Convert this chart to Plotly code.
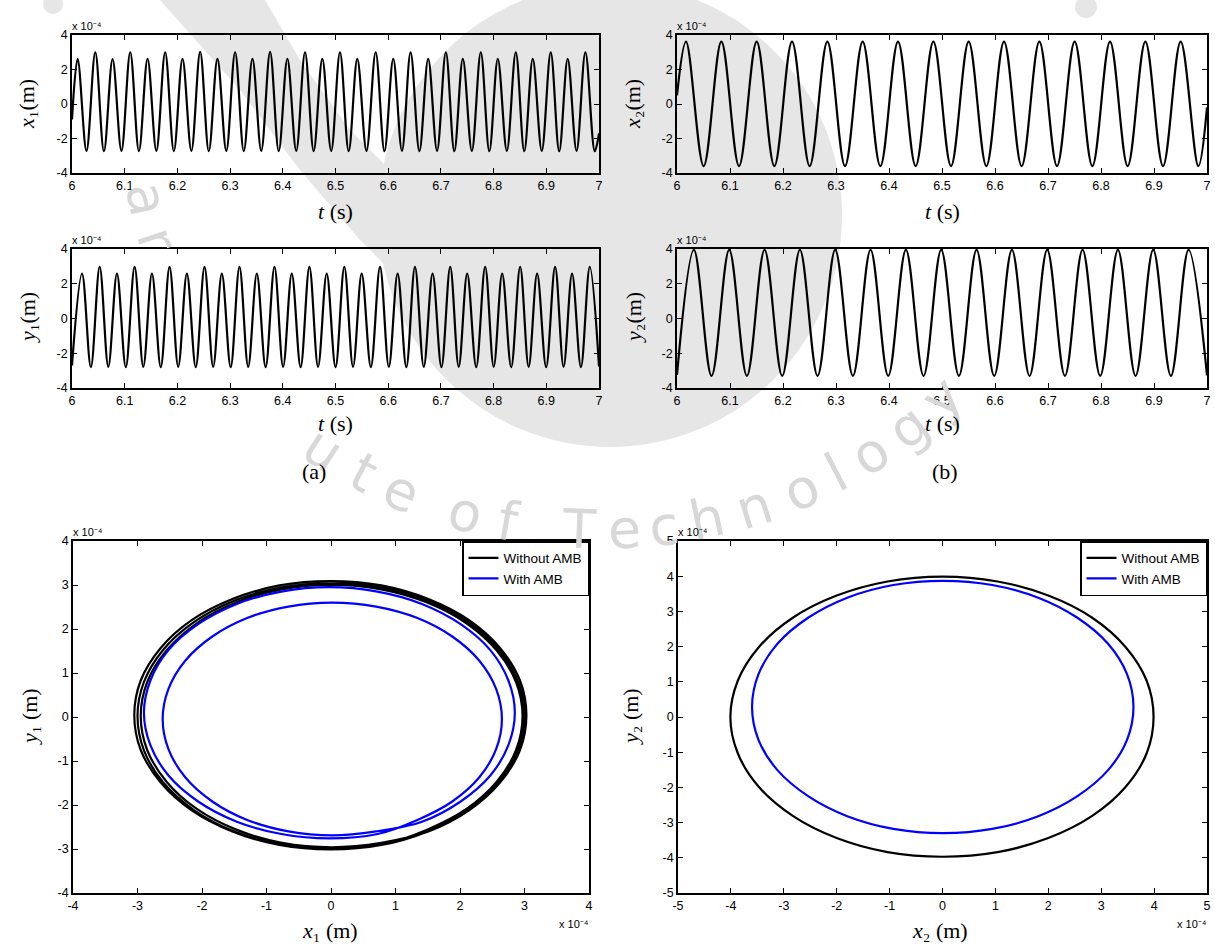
import math
import plotly.graph_objects as go

W, H = 1215, 947

# ---------------------------------------------------------------------------
# Time histories, t (s) vs displacement (x 1e-4 m): turning points of each record
# ---------------------------------------------------------------------------
X1 = [(6.0000, -0.9), (6.0107, 2.62), (6.0275, -2.72), (6.0442, 3.00), (6.0606, -2.74),
      (6.0770, 2.60), (6.0938, -2.72), (6.1105, 3.00), (6.1270, -2.74), (6.1434, 2.62),
      (6.1601, -2.72), (6.1768, 3.00), (6.1933, -2.74), (6.2097, 2.62), (6.2265, -2.72),
      (6.2432, 3.02), (6.2596, -2.74), (6.2760, 2.62), (6.2928, -2.72), (6.3095, 3.00),
      (6.3260, -2.74), (6.3424, 2.62), (6.3591, -2.72), (6.3759, 3.02), (6.3923, -2.74),
      (6.4087, 2.62), (6.4255, -2.72), (6.4422, 3.00), (6.4586, -2.74), (6.4750, 2.62),
      (6.4918, -2.72), (6.5085, 3.00), (6.5250, -2.74), (6.5414, 2.62), (6.5588, -2.72),
      (6.5762, 3.00), (6.5929, -2.74), (6.6096, 2.62), (6.6261, -2.72), (6.6425, 3.00),
      (6.6592, -2.74), (6.6759, 2.62), (6.6927, -2.72), (6.7094, 3.00), (6.7255, -2.74),
      (6.7416, 2.62), (6.7587, -2.72), (6.7757, 3.00), (6.7919, -2.74), (6.8080, 2.62),
      (6.8251, -2.72), (6.8421, 3.00), (6.8582, -2.74), (6.8743, 2.62), (6.8914, -2.72),
      (6.9084, 3.00), (6.9245, -2.74), (6.9406, 2.62), (6.9574, -2.72), (6.9742, 3.00),
      (6.9920, -2.74), (7.0000, -1.7)]

X2 = [(6.0000, 0.5), (6.0170, 3.62), (6.0503, -3.60), (6.0837, 3.62), (6.1170, -3.60),
      (6.1503, 3.62), (6.1837, -3.60), (6.2170, 3.62), (6.2503, -3.60), (6.2837, 3.62),
      (6.3170, -3.60), (6.3503, 3.62), (6.3837, -3.60), (6.4170, 3.62), (6.4503, -3.60),
      (6.4837, 3.62), (6.5170, -3.60), (6.5503, 3.62), (6.5837, -3.60), (6.6170, 3.62),
      (6.6503, -3.60), (6.6837, 3.62), (6.7170, -3.60), (6.7503, 3.62), (6.7837, -3.60),
      (6.8170, 3.62), (6.8503, -3.60), (6.8837, 3.62), (6.9170, -3.60), (6.9503, 3.62),
      (6.9837, -3.60), (7.0000, -0.2)]

Y1 = [(6.0000, -2.70), (6.0190, 2.58), (6.0358, -2.80), (6.0525, 2.97), (6.0689, -2.78),
      (6.0853, 2.58), (6.1021, -2.80), (6.1188, 2.97), (6.1353, -2.78), (6.1517, 2.58),
      (6.1684, -2.80), (6.1851, 2.97), (6.2016, -2.78), (6.2180, 2.58), (6.2348, -2.80),
      (6.2515, 2.97), (6.2679, -2.78), (6.2843, 2.58), (6.3011, -2.80), (6.3178, 2.97),
      (6.3343, -2.78), (6.3507, 2.58), (6.3674, -2.80), (6.3842, 2.97), (6.4006, -2.78),
      (6.4170, 2.58), (6.4338, -2.80), (6.4505, 2.97), (6.4669, -2.78), (6.4833, 2.58),
      (6.5001, -2.80), (6.5168, 2.97), (6.5333, -2.78), (6.5497, 2.58), (6.5671, -2.80),
      (6.5845, 2.97), (6.6012, -2.78), (6.6179, 2.58), (6.6344, -2.80), (6.6508, 2.97),
      (6.6675, -2.78), (6.6842, 2.58), (6.7010, -2.80), (6.7177, 2.97), (6.7338, -2.78),
      (6.7499, 2.58), (6.7670, -2.80), (6.7840, 2.97), (6.8002, -2.78), (6.8163, 2.58),
      (6.8334, -2.80), (6.8504, 2.97), (6.8665, -2.78), (6.8826, 2.58), (6.8997, -2.80),
      (6.9167, 2.97), (6.9328, -2.78), (6.9489, 2.58), (6.9657, -2.80), (6.9825, 2.97),
      (7.0000, -2.76)]

Y2 = [(6.0000, -3.25), (6.0319, 3.95), (6.0652, -3.30), (6.0985, 3.95), (6.1319, -3.30),
      (6.1652, 3.95), (6.1985, -3.30), (6.2319, 3.95), (6.2652, -3.30), (6.2985, 3.95),
      (6.3319, -3.30), (6.3652, 3.95), (6.3985, -3.30), (6.4319, 3.95), (6.4652, -3.30),
      (6.4985, 3.95), (6.5319, -3.30), (6.5652, 3.95), (6.5985, -3.30), (6.6319, 3.95),
      (6.6652, -3.30), (6.6985, 3.95), (6.7319, -3.30), (6.7652, 3.95), (6.7985, -3.30),
      (6.8319, 3.95), (6.8652, -3.30), (6.8985, 3.95), (6.9319, -3.30), (6.9652, 3.95),
      (7.0000, -3.28)]

# ---------------------------------------------------------------------------
# Orbits (x 1e-4 m): points round each loop of the whirl trajectory
# ---------------------------------------------------------------------------
# bearing 1, without AMB: three successive loops
ORB1_NO_AMB_LOOP1 = [
    (1.51, -2.60), (2.14, -2.12), (2.62, -1.49), (2.93, -0.75), (3.03, 0.04), (2.93, 0.83),
    (2.62, 1.57), (2.14, 2.20), (1.51, 2.68), (0.78, 2.99), (-0.01, 3.09), (-0.80, 2.99),
    (-1.53, 2.68), (-2.16, 2.20), (-2.64, 1.57), (-2.95, 0.83), (-3.05, 0.04), (-2.95, -0.75),
    (-2.64, -1.49), (-2.16, -2.12), (-1.53, -2.60), (-0.80, -2.91), (-0.01, -3.01), (0.78, -2.91)]
ORB1_NO_AMB_LOOP2 = [
    (1.50, -2.60), (2.12, -2.12), (2.60, -1.49), (2.90, -0.76), (3.00, 0.02), (2.90, 0.80),
    (2.60, 1.53), (2.12, 2.16), (1.50, 2.64), (0.78, 2.94), (0.00, 3.04), (-0.78, 2.94),
    (-1.50, 2.64), (-2.12, 2.16), (-2.60, 1.53), (-2.90, 0.80), (-3.00, 0.02), (-2.90, -0.76),
    (-2.60, -1.49), (-2.12, -2.12), (-1.50, -2.60), (-0.78, -2.90), (0.00, -3.00), (0.78, -2.90)]
ORB1_NO_AMB_LOOP3 = [
    (1.49, -2.56), (2.10, -2.09), (2.57, -1.47), (2.87, -0.75), (2.97, 0.02), (2.87, 0.79),
    (2.57, 1.51), (2.10, 2.13), (1.49, 2.60), (0.78, 2.90), (0.01, 3.00), (-0.76, 2.90),
    (-1.47, 2.60), (-2.08, 2.13), (-2.55, 1.51), (-2.85, 0.79), (-2.95, 0.02), (-2.85, -0.75),
    (-2.55, -1.47), (-2.08, -2.09), (-1.47, -2.56), (-0.76, -2.86), (0.01, -2.96), (0.78, -2.86)]

# bearing 1, with AMB: outer and inner loop
ORB1_AMB_LOOP1 = [
    (1.41, -2.38), (2.01, -1.92), (2.47, -1.33), (2.75, -0.64), (2.85, 0.10), (2.75, 0.83),
    (2.47, 1.52), (2.01, 2.11), (1.41, 2.57), (0.72, 2.85), (-0.03, 2.95), (-0.77, 2.85),
    (-1.46, 2.57), (-2.06, 2.11), (-2.52, 1.52), (-2.80, 0.83), (-2.90, 0.10), (-2.80, -0.64),
    (-2.52, -1.33), (-2.06, -1.92), (-1.46, -2.38), (-0.77, -2.66), (-0.03, -2.76), (0.72, -2.66)]
ORB1_AMB_LOOP2 = [
    (1.34, -2.34), (1.88, -1.92), (2.30, -1.37), (2.56, -0.73), (2.65, -0.05), (2.56, 0.64),
    (2.30, 1.28), (1.88, 1.83), (1.34, 2.25), (0.70, 2.51), (0.02, 2.60), (-0.66, 2.51),
    (-1.30, 2.25), (-1.84, 1.83), (-2.26, 1.28), (-2.52, 0.64), (-2.61, -0.05), (-2.52, -0.73),
    (-2.26, -1.37), (-1.84, -1.92), (-1.30, -2.34), (-0.66, -2.60), (0.02, -2.69), (0.70, -2.60)]

# bearing 2
ORB2_NO_AMB = [
    (3.99, 0.00), (3.86, 1.03), (3.46, 1.99), (2.83, 2.82), (2.00, 3.45), (1.04, 3.85),
    (0.00, 3.99), (-1.04, 3.85), (-2.00, 3.45), (-2.83, 2.82), (-3.47, 1.99), (-3.87, 1.03),
    (-4.01, 0.00), (-3.87, -1.03), (-3.47, -1.99), (-2.83, -2.81), (-2.00, -3.44), (-1.04, -3.84),
    (0.00, -3.97), (1.04, -3.84), (2.00, -3.44), (2.83, -2.81), (3.46, -1.99), (3.86, -1.03)]
ORB2_AMB = [
    (3.61, 0.28), (3.49, 1.21), (3.13, 2.08), (2.55, 2.82), (1.81, 3.39), (0.94, 3.75),
    (0.01, 3.87), (-0.93, 3.75), (-1.80, 3.39), (-2.54, 2.82), (-3.12, 2.08), (-3.48, 1.21),
    (-3.60, 0.28), (-3.48, -0.64), (-3.12, -1.51), (-2.54, -2.25), (-1.80, -2.82), (-0.93, -3.18),
    (0.01, -3.30), (0.94, -3.18), (1.81, -2.82), (2.55, -2.25), (3.13, -1.51), (3.49, -0.64)]

# ---------------------------------------------------------------------------
# Ticks
# ---------------------------------------------------------------------------
T_TICKS = [6.0, 6.1, 6.2, 6.3, 6.4, 6.5, 6.6, 6.7, 6.8, 6.9, 7.0]
T_LABELS = ["6", "6.1", "6.2", "6.3", "6.4", "6.5", "6.6", "6.7", "6.8", "6.9", "7"]
TS_TICKS = [-4, -2, 0, 2, 4]
TS_LABELS = ["-4", "-2", "0", "2", "4"]
ORB1_TICKS = [-4, -3, -2, -1, 0, 1, 2, 3, 4]
ORB1_LABELS = ["-4", "-3", "-2", "-1", "0", "1", "2", "3", "4"]
ORB2_TICKS = [-5, -4, -3, -2, -1, 0, 1, 2, 3, 4, 5]
ORB2_LABELS = ["-5", "-4", "-3", "-2", "-1", "0", "1", "2", "3", "4", "5"]

SANS = "Liberation Sans, Arial, sans-serif"
SERIF = "Liberation Serif, Times New Roman, serif"
BLUE = "#0000ff"


def px(x):
    return x / W


def py(y):
    return 1 - y / H


def xy(points):
    return [p[0] for p in points], [p[1] for p in points]


fig = go.Figure()

for pts, xa, ya in [(X1, "x", "y"), (X2, "x2", "y2"), (Y1, "x3", "y3"), (Y2, "x4", "y4")]:
    xs, ys = xy(pts)
    fig.add_trace(go.Scatter(
        x=xs, y=ys, mode="lines", xaxis=xa, yaxis=ya, showlegend=False, hoverinfo="skip",
        line=dict(color="black", width=2.2, shape="spline", smoothing=1)))

# each orbit is drawn as one closed path (last point repeats the first)
orb1_no = ORB1_NO_AMB_LOOP1 + ORB1_NO_AMB_LOOP2 + ORB1_NO_AMB_LOOP3 + ORB1_NO_AMB_LOOP1[:1]
orb1_amb = ORB1_AMB_LOOP1 + ORB1_AMB_LOOP2 + ORB1_AMB_LOOP1[:1]
orb2_no = ORB2_NO_AMB + ORB2_NO_AMB[:1]
orb2_amb = ORB2_AMB + ORB2_AMB[:1]

for pts, xa, ya, name, color, leg in [
        (orb1_no, "x5", "y5", "Without AMB", "black", "legend"),
        (orb1_amb, "x5", "y5", "With AMB", BLUE, "legend"),
        (orb2_no, "x6", "y6", "Without AMB", "black", "legend2"),
        (orb2_amb, "x6", "y6", "With AMB", BLUE, "legend2")]:
    xs, ys = xy(pts)
    fig.add_trace(go.Scatter(
        x=xs, y=ys, mode="lines", xaxis=xa, yaxis=ya, name=name, legend=leg,
        hoverinfo="skip", line=dict(color=color, width=2.2, shape="spline", smoothing=1)))


def axis(domain, anchor, rng, vals, labels):
    return dict(domain=domain, anchor=anchor, range=rng, tickmode="array",
                tickvals=vals, ticktext=labels, showline=True, linecolor="black",
                linewidth=1.6, mirror="ticks", ticks="inside", ticklen=5, tickwidth=1,
                tickcolor="black", showgrid=False, zeroline=False, automargin=False,
                fixedrange=True, tickfont=dict(family=SANS, size=12.5, color="black"))


# panel frames in pixels (left, right) / (top, bottom)
TS_L, TS_R = (72, 599), (677, 1207)
ROW1, ROW2 = (35, 173), (249, 388)
OB_L, OB_R = (73, 589), (678, 1207)
ROW3 = (541, 893)


def xd(c):
    return [px(c[0]), px(c[1])]


def yd(r):
    return [py(r[1]), py(r[0])]


layout = dict(
    width=W, height=H, margin=dict(l=0, r=0, t=0, b=0, pad=0),
    paper_bgcolor="white", plot_bgcolor="white",
    xaxis=axis(xd(TS_L), "y", [6, 7], T_TICKS, T_LABELS),
    yaxis=axis(yd(ROW1), "x", [-4, 4], TS_TICKS, TS_LABELS),
    xaxis2=axis(xd(TS_R), "y2", [6, 7], T_TICKS, T_LABELS),
    yaxis2=axis(yd(ROW1), "x2", [-4, 4], TS_TICKS, TS_LABELS),
    xaxis3=axis(xd(TS_L), "y3", [6, 7], T_TICKS, T_LABELS),
    yaxis3=axis(yd(ROW2), "x3", [-4, 4], TS_TICKS, TS_LABELS),
    xaxis4=axis(xd(TS_R), "y4", [6, 7], T_TICKS, T_LABELS),
    yaxis4=axis(yd(ROW2), "x4", [-4, 4], TS_TICKS, TS_LABELS),
    xaxis5=axis(xd(OB_L), "y5", [-4, 4], ORB1_TICKS, ORB1_LABELS),
    yaxis5=axis(yd(ROW3), "x5", [-4, 4], ORB1_TICKS, ORB1_LABELS),
    xaxis6=axis(xd(OB_R), "y6", [-5, 5], ORB2_TICKS, ORB2_LABELS),
    yaxis6=axis(yd(ROW3), "x6", [-5, 5], ORB2_TICKS, ORB2_LABELS),
)

legend_style = dict(xanchor="right", yanchor="top", bgcolor="white", bordercolor="black",
                    borderwidth=1.5, font=dict(family=SANS, size=13.5, color="black"),
                    tracegroupgap=0, itemwidth=30)
layout["legend"] = dict(x=px(OB_L[1]), y=py(ROW3[0]), **legend_style)
layout["legend2"] = dict(x=px(OB_R[1]), y=py(ROW3[0]), **legend_style)

ann = []


def text(s, x, y, size, family=SERIF, angle=0, xa="center", ya="middle", color="black"):
    ann.append(dict(text=s, x=px(x), y=py(y), xref="paper", yref="paper", showarrow=False,
                    textangle=angle, xanchor=xa, yanchor=ya,
                    font=dict(family=family, size=size, color=color)))


# faint emblem lettering in the background, running round the seal
WM_GRAY = "#d8d8d8"
WM_FONT = "DejaVu Sans, Verdana, sans-serif"
WM_LETTERS = [("a", 170), ("r", 164),
              ("u", 127), ("t", 121), ("e", 115.5), ("o", 107), ("f", 101.5),
              ("T", 92.5), ("e", 87), ("c", 82), ("h", 76.5), ("n", 70.5), ("o", 64),
              ("l", 59), ("o", 54), ("g", 48), ("y", 42)]
for ch, th in WM_LETTERS:
    t = math.radians(th)
    cx = 600 + 460 * math.cos(t)
    cy = 130 + 400 * math.sin(t)
    ang = math.degrees(math.atan2(-400 * math.cos(t), 460 * math.sin(t)))
    text(ch, cx, cy, 54, family=WM_FONT, angle=ang, color=WM_GRAY)

# axis titles (unicode sub/superscripts)
text("<i>x</i>\u2081(m)", 27, 104, 22, angle=-90)
text("<i>x</i>\u2082(m)", 633, 104, 22, angle=-90)
text("<i>y</i>\u2081(m)", 27, 318, 22, angle=-90)
text("<i>y</i>\u2082(m)", 633, 318, 22, angle=-90)
for cx in (335, 942):
    for cy in (212, 423):
        text("<i>t</i> (s)", cx, cy, 22)
text("(a)", 314, 472, 22)
text("(b)", 945, 472, 22)
text("<i>y</i>\u2081 (m)", 29, 717, 22, angle=-90)
text("<i>y</i>\u2082 (m)", 630, 717, 22, angle=-90)
text("<i>x</i>\u2081 (m)", 330, 930, 22)
text("<i>x</i>\u2082 (m)", 940, 930, 22)

# exponent markers
EXP = "x 10\u207b\u2074"
for lx, top in [(72, ROW1[0]), (677, ROW1[0]), (72, ROW2[0]), (677, ROW2[0]),
                (73, ROW3[0]), (678, ROW3[0])]:
    text(EXP, lx - 2, top - 1, 11, family=SANS, xa="left", ya="bottom")
for rx in (OB_L[1], OB_R[1]):
    text(EXP, rx + 2, 916, 11, family=SANS, xa="right", ya="top")

layout["annotations"] = ann


def path_px(points):
    return "M " + " L ".join(f"{px(x):.4f} {py(y):.4f}" for x, y in points) + " Z"


# emblem background tint behind the panels
EMBLEM = "#e6e6e6"
layout["shapes"] = [
    dict(type="circle", xref="paper", yref="paper", layer="below",
         x0=px(378), x1=px(842), y0=py(447), y1=py(-17),
         fillcolor=EMBLEM, line=dict(width=0)),
    dict(type="path", xref="paper", yref="paper", layer="below",
         path=path_px([(160, 0), (265, 0), (300, 60), (350, 130), (410, 190), (450, 240),
                       (480, 300), (470, 330), (420, 300), (360, 240), (300, 170),
                       (240, 90)]),
         fillcolor=EMBLEM, line=dict(width=0)),
    dict(type="circle", xref="paper", yref="paper", layer="below",
         x0=px(43), x1=px(63), y0=py(14), y1=py(-6),
         fillcolor=EMBLEM, line=dict(width=0)),
    dict(type="circle", xref="paper", yref="paper", layer="below",
         x0=px(1075), x1=px(1097), y0=py(18), y1=py(-4),
         fillcolor=EMBLEM, line=dict(width=0)),
]

fig.update_layout(**layout)
fig.write_html("out.html")
